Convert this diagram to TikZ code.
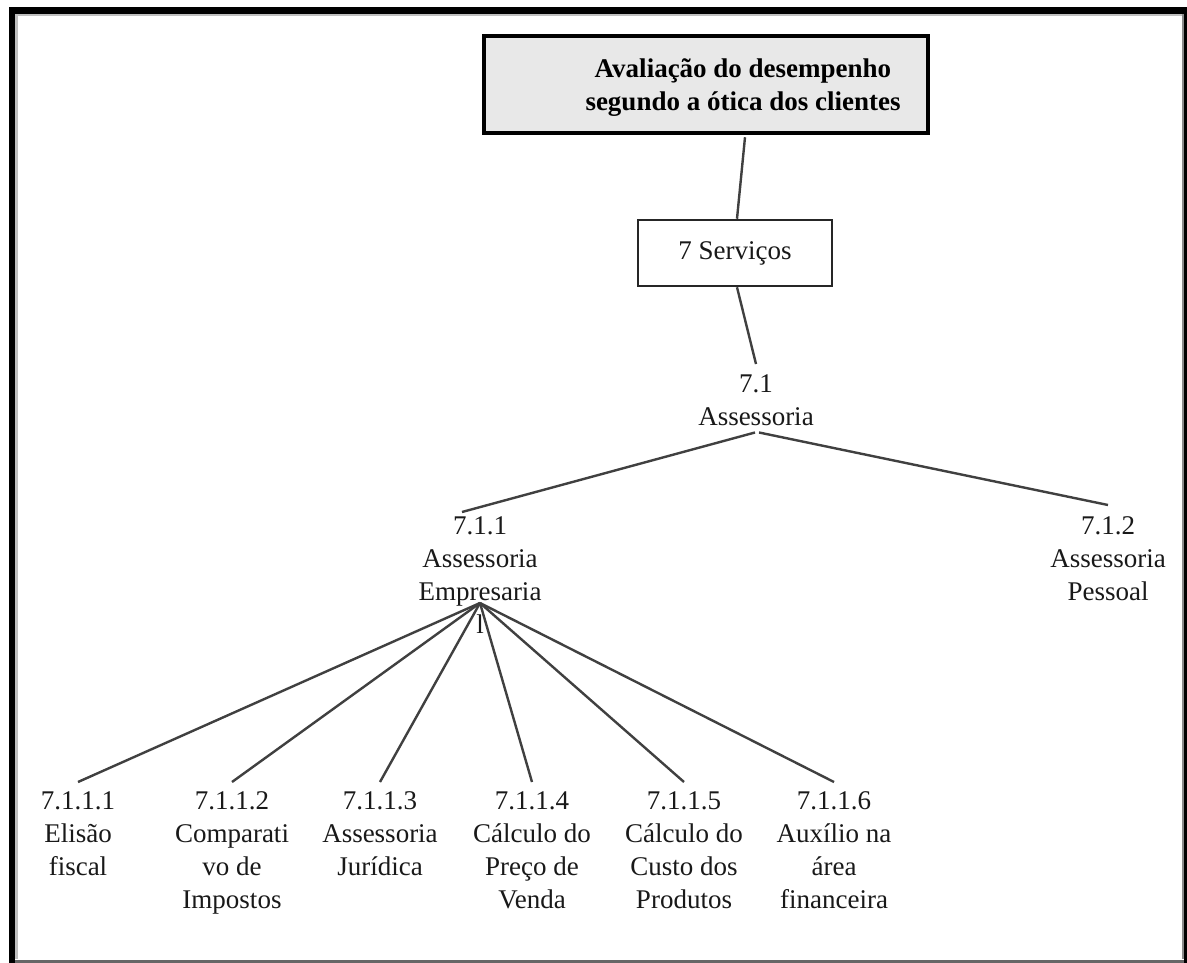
\documentclass[tikz,border=0pt]{standalone}
\usepackage{fontspec}
\setmainfont{Liberation Serif}
\begin{document}
\begin{tikzpicture}[x=1pt,y=-1pt,
  conn/.style={draw=black!75, line width=2.4pt},
  lbl/.style={font=\fontsize{27}{33}\selectfont, align=center, inner sep=0pt,
              anchor=north, text=black!90},
  titlebox/.style={draw=black, line width=4.5pt, fill=black!9,
                   minimum width=444, minimum height=97, inner sep=0pt},
  servbox/.style={draw=black!85, line width=2.5pt, fill=white,
                  minimum width=194, minimum height=66, inner sep=0pt,
                  font=\fontsize{27}{33}\selectfont, text=black!90},
]
\useasboundingbox (0,0) rectangle (1187,963);
\fill[white] (0,0) rectangle (1187,963);

% page frame: heavy black on top, left and right, thin grey at the bottom
\fill[black!25] (15,14) rectangle (1184,16.5);
\fill[black!25] (15,14) rectangle (17.5,959);
\fill[black!45] (1181.5,14) rectangle (1184,959);
\fill[black] (9,7) rectangle (1187,14);
\fill[black] (9,7) rectangle (15,963);
\fill[black] (1184,7) rectangle (1187,963);
\fill[black!60] (15,959.5) rectangle (1184,963);

% top box
\node[titlebox] (title) at (706,84.5) {};
\node[font=\bfseries\fontsize{27}{33}\selectfont, align=center, inner sep=0pt,
      text=black] (titletext) at (743,88) {Avaliação do desempenho\\segundo a ótica dos clientes};

% second level
\node[servbox] (serv) at (735,253) {7 Serviços};

% tree labels
\node[lbl] (n71) at (756,374) {7.1\\Assessoria};
\node[lbl] (n711) at (480,516) {7.1.1\\Assessoria\\Empresaria\\l};
\node[lbl] (n712) at (1108,516) {7.1.2\\Assessoria\\Pessoal};

\node[lbl] (c1) at (78,791) {7.1.1.1\\Elisão\\fiscal};
\node[lbl] (c2) at (232,791) {7.1.1.2\\Comparati\\vo de\\Impostos};
\node[lbl] (c3) at (380,791) {7.1.1.3\\Assessoria\\Jurídica};
\node[lbl] (c4) at (532,791) {7.1.1.4\\Cálculo do\\Preço de\\Venda};
\node[lbl] (c5) at (684,791) {7.1.1.5\\Cálculo do\\Custo dos\\Produtos};
\node[lbl] (c6) at (834,791) {7.1.1.6\\Auxílio na\\área\\financeira};

% connectors
\draw[conn] ([xshift=39pt,yshift=-2pt]title.south) -- ([xshift=2pt]serv.north);
\draw[conn] ([xshift=2pt]serv.south) -- ([yshift=10pt]n71.north);
\draw[conn] ([xshift=-1pt,yshift=-7pt]n71.south) -- ([xshift=-18pt,yshift=4pt]n711.north);
\draw[conn] ([xshift=3pt,yshift=-7pt]n71.south) -- ([yshift=11pt]n712.north);

\coordinate (hub) at (480,603);
\foreach \c in {c1,c2,c3,c4,c5,c6}
  \draw[conn] (hub) -- ([yshift=9pt]\c.north);
\end{tikzpicture}
\end{document}
